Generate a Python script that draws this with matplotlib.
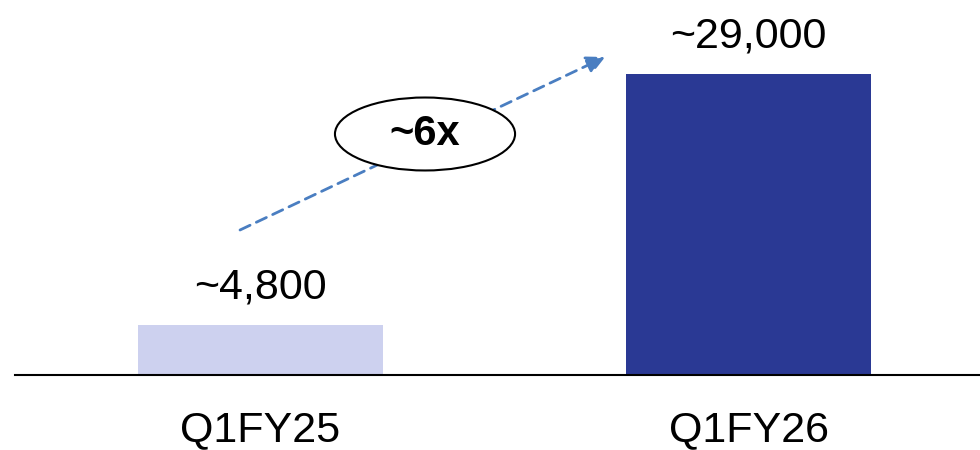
import matplotlib.pyplot as plt
from matplotlib.patches import Ellipse

plt.rcParams['font.family'] = ['Liberation Sans', 'DejaVu Sans']

quarters = ["Q1FY25", "Q1FY26"]
counts = [4800, 29000]
value_labels = ["~4,800", "~29,000"]
bar_colors = ["#CDD1EF", "#2A3994"]
growth_label = "~6x"


def main() -> None:
    fig = plt.figure(figsize=(9.8, 4.5), dpi=100)
    # axes placed in pixel terms: baseline at y=375, left edge at x=15
    ax = fig.add_axes([15 / 980, 75 / 450, 965 / 980, 375 / 450])

    xs = list(range(len(quarters)))
    ax.bar(xs, counts, width=0.502, color=bar_colors)

    for x, v, lab in zip(xs, counts, value_labels):
        ax.annotate(lab, (x, v), xytext=(0, 27), textcoords="offset points",
                    ha="center", va="center", fontsize=31)

    ax.set_xlim(-0.503, 1.474)
    ax.set_ylim(0, 36130)

    # growth arrow from first bar towards second
    ax.annotate("", xy=(0.706, 30640), xytext=(-0.042, 13970),
                arrowprops=dict(arrowstyle="-|>", color="#4A7EC1", lw=2,
                                linestyle=(0, (4, 2.5)), mutation_scale=28,
                                shrinkA=0, shrinkB=0))
    ell = Ellipse((0.337, 23220), 0.369, 7030, facecolor="white",
                  edgecolor="black", lw=1.5, zorder=5)
    ax.add_patch(ell)
    ax.text(0.337, 23220, growth_label, ha="center", va="center",
            fontsize=30, fontweight="bold", zorder=6)

    ax.set_xticks(xs)
    ax.set_xticklabels(quarters, fontsize=31)
    ax.tick_params(axis="x", length=0, pad=25)
    ax.set_yticks([])
    for side in ["top", "right", "left"]:
        ax.spines[side].set_visible(False)
    ax.spines["bottom"].set_linewidth(1.5)

    fig.savefig("out.png", dpi=100)


if __name__ == "__main__":
    main()
